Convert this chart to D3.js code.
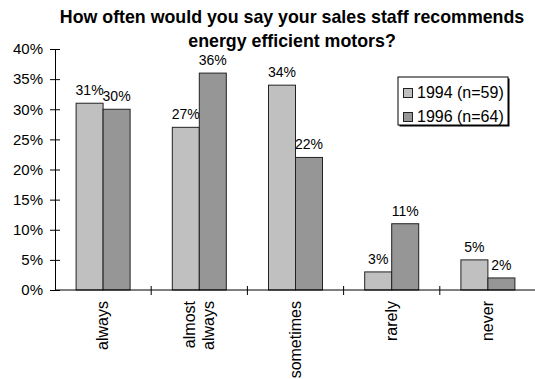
<!DOCTYPE html>
<html>
<head>
<meta charset="utf-8">
<script src="https://cdn.jsdelivr.net/npm/d3@7"></script>
<style>
  body { margin: 0; background: #fff; }
  text { font-family: Arial, "Liberation Sans", sans-serif; fill: #000; }
</style>
</head>
<body>
<div id="chart"></div>
<script>
// survey answers
const categories = ["always", "almost always", "sometimes", "rarely", "never"];
const seriesNames = ["1994 (n=59)", "1996 (n=64)"];
const values1994 = [0.31, 0.27, 0.34, 0.03, 0.05];
const values1996 = [0.30, 0.36, 0.22, 0.11, 0.02];
const yTicks = [0, 0.05, 0.10, 0.15, 0.20, 0.25, 0.30, 0.35, 0.40];
const titleLines = ["How often would you say your sales staff recommends", "energy efficient motors?"];

const width = 535,
  height = 379;
const colors = ["#c0c0c0", "#969696"];

const svg = d3
  .select("#chart")
  .append("svg")
  .attr("width", width)
  .attr("height", height);

const x = d3.scaleBand().domain(categories).range([55, 536]);
const y = d3.scaleLinear().domain([0, 0.4]).range([290, 49]);
const barW = 27;
const xSub = d3.scaleBand().domain([0, 1]).range([-barW, barW]);

// title
svg
  .append("g")
  .selectAll("text")
  .data(titleLines)
  .join("text")
  .attr("x", 292)
  .attr("y", (d, i) => 23 + i * 24)
  .attr("text-anchor", "middle")
  .style("font-weight", "bold")
  .style("font-size", "17.8px")
  .text(d => d);

// bars
const groups = svg
  .append("g")
  .selectAll("g")
  .data(categories)
  .join("g")
  .attr("transform", d => "translate(" + (x(d) + x.bandwidth() / 2) + ",0)");

const bars = groups
  .selectAll("g")
  .data((d, i) => [values1994[i], values1996[i]])
  .join("g");

bars
  .append("rect")
  .attr("x", (d, j) => xSub(j))
  .attr("y", d => y(d))
  .attr("width", xSub.bandwidth())
  .attr("height", d => y(0) - y(d))
  .attr("fill", (d, j) => colors[j])
  .attr("stroke", "#222")
  .attr("stroke-width", 1);

bars
  .append("text")
  .attr("x", (d, j) => xSub(j) + xSub.bandwidth() / 2)
  .attr("y", d => y(d) - 8)
  .attr("text-anchor", "middle")
  .style("font-size", "14px")
  .text(d => Math.round(d * 100) + "%");

// y axis
const yAxis = d3
  .axisLeft(y)
  .tickValues(yTicks)
  .tickFormat(d => Math.round(d * 100) + "%")
  .tickSize(0)
  .tickPadding(12);

const gy = svg
  .append("g")
  .attr("transform", "translate(55,0)")
  .call(yAxis);
gy.select(".domain").attr("stroke", "#000");
gy.selectAll(".tick text").style("font-size", "15px").style("font-family", "Arial, 'Liberation Sans', sans-serif");
gy.selectAll(".tick")
  .append("line")
  .attr("x1", -5)
  .attr("x2", 5)
  .attr("stroke", "#000");

// x axis line and ticks between categories
svg
  .append("line")
  .attr("x1", 55)
  .attr("x2", 536)
  .attr("y1", y(0))
  .attr("y2", y(0))
  .attr("stroke", "#000");

svg
  .append("g")
  .selectAll("line")
  .data(categories.slice(1))
  .join("line")
  .attr("x1", d => x(d))
  .attr("x2", d => x(d))
  .attr("y1", y(0) - 4)
  .attr("y2", y(0) + 5)
  .attr("stroke", "#000");

// rotated category labels
const lineGap = 19;
svg
  .append("g")
  .selectAll("text")
  .data(categories)
  .join("text")
  .attr("transform", d => "translate(" + (x(d) + x.bandwidth() / 2 + 5) + ",301) rotate(-90)")
  .attr("text-anchor", "end")
  .style("font-size", "16px")
  .each(function(d) {
    const words = d === "almost always" ? ["almost", "always"] : [d];
    d3.select(this)
      .selectAll("tspan")
      .data(words)
      .join("tspan")
      .attr("x", 0)
      .attr("y", (w, i) => (i - (words.length - 1) / 2) * lineGap)
      .text(w => w);
  });

// legend
const legend = svg.append("g").attr("transform", "translate(398,77)");
legend
  .append("rect")
  .attr("x", 1.5)
  .attr("y", 1.5)
  .attr("width", 110)
  .attr("height", 48)
  .attr("fill", "#000");
legend
  .append("rect")
  .attr("width", 110)
  .attr("height", 48)
  .attr("fill", "#fff")
  .attr("stroke", "#000");

const items = legend
  .selectAll(".item")
  .data(seriesNames)
  .join("g")
  .attr("class", "item")
  .attr("transform", (d, i) => "translate(0," + (i * 24) + ")");

items
  .append("rect")
  .attr("x", 5.5)
  .attr("y", 11.5)
  .attr("width", 9)
  .attr("height", 9)
  .attr("fill", (d, i) => colors[i])
  .attr("stroke", "#222");

items
  .append("text")
  .attr("x", 19)
  .attr("y", 21)
  .style("font-size", "16px")
  .text(d => d);
</script>
</body>
</html>
